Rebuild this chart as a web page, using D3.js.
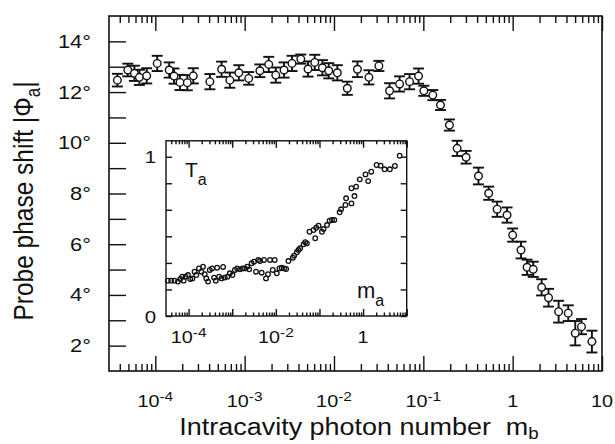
<!doctype html>
<html lang="en">
<head>
  <meta charset="utf-8">
  <title>Probe phase shift</title>
  <script src="https://d3js.org/d3.v7.min.js"></script>
  <style>
    body { margin: 0; background: #fff; }
    text { font-family: "Liberation Sans", Arial, Helvetica, sans-serif; fill: #111; }
  </style>
</head>
<body>
<svg id="chart" width="615" height="444"></svg>

<script>
// main plot: phase shift vs intracavity photon number m_b
var mb = [3.76e-5, 4.92e-5, 5.83e-5, 6.63e-5, 8.01e-5, 1.05e-4, 1.43e-4, 1.62e-4, 1.89e-4, 2.28e-4,
          2.66e-4, 4.08e-4, 5.52e-4, 6.83e-4, 8.61e-4, 1.11e-3, 1.48e-3, 1.86e-3, 2.23e-3, 2.76e-3,
          3.39e-3, 4.25e-3, 5.12e-3, 6.09e-3, 7.42e-3, 8.73e-3, 1.09e-2, 1.41e-2, 1.83e-2, 2.46e-2,
          3.18e-2, 4.19e-2, 5.42e-2, 7.01e-2, 8.84e-2, 0.1014, 0.1277, 0.1556, 0.196, 0.239,
          0.301, 0.414, 0.539, 0.670, 0.865, 1.00, 1.24, 1.45, 1.70, 2.11,
          2.52, 3.27, 4.19, 5.02, 5.90, 7.71];
var phi = [12.47, 12.87, 12.74, 12.58, 12.64, 13.13, 12.87, 12.63, 12.38, 12.37,
           12.64, 12.41, 12.90, 12.47, 12.76, 12.54, 12.84, 13.09, 12.67, 12.87,
           13.13, 13.30, 12.91, 13.17, 12.96, 12.84, 12.76, 12.15, 12.90, 12.58,
           13.03, 12.05, 12.32, 12.41, 12.63, 12.05, 11.88, 11.49, 10.70, 9.78,
           9.43, 8.69, 8.01, 7.38, 7.15, 6.36, 5.77, 5.09, 5.01, 4.30,
           3.89, 3.34, 3.28, 2.49, 2.75, 2.16];
var phiErr = [0.25, 0.25, 0.3, 0.3, 0.3, 0.3, 0.3, 0.3, 0.3, 0.3,
              0.3, 0.3, 0.3, 0.3, 0.3, 0.25, 0.25, 0.3, 0.3, 0.3,
              0.3, 0.18, 0.3, 0.3, 0.3, 0.3, 0.3, 0.26, 0.31, 0.28,
              0.2, 0.3, 0.3, 0.3, 0.3, 0.2, 0.2, 0.2, 0.22, 0.3,
              0.25, 0.33, 0.26, 0.3, 0.3, 0.26, 0.33, 0.3, 0.3, 0.32,
              0.35, 0.43, 0.31, 0.48, 0.3, 0.43];

var yTicks = [2, 4, 6, 8, 10, 12, 14];
var yTickLabels = ["2°", "4°", "6°", "8°", "10°", "12°", "14°"];
var xTicks = [1e-4, 1e-3, 1e-2, 1e-1, 1, 10];
var xTickLabels = ["10^-4", "10^-3", "10^-2", "10^-1", "1", "10"];

// inset: transmission T_a vs m_a
var ma = [3.34e-5, 3.99e-5, 4.75e-5, 5.68e-5, 6.43e-5, 7.14e-5, 7.67e-5, 8.53e-5, 9.66e-5, 1.09e-4,
          1.22e-4, 1.37e-4, 1.50e-4, 1.73e-4, 1.96e-4, 2.14e-4, 2.34e-4, 2.55e-4, 2.79e-4, 3.05e-4,
          3.45e-4, 3.84e-4, 4.19e-4, 4.50e-4, 5.00e-4, 5.66e-4, 6.18e-4, 6.75e-4, 7.78e-4, 8.81e-4,
          1.01e-3, 1.15e-3, 1.30e-3, 1.50e-3, 1.73e-3, 1.95e-3, 2.21e-3, 2.45e-3, 2.78e-3, 3.15e-3,
          3.50e-3, 3.95e-3, 4.33e-3, 4.73e-3, 5.35e-3, 5.94e-3, 6.61e-3, 7.35e-3, 8.47e-3, 9.42e-3,
          1.05e-2, 1.21e-2, 1.36e-2, 1.55e-2, 1.72e-2, 1.94e-2, 2.45e-2, 2.62e-2, 3.03e-2, 3.30e-2,
          3.61e-2, 4.31e-2, 4.71e-2, 5.15e-2, 5.91e-2, 8.0e-2, 7.31e-2, 8.43e-2, 9.53e-2, 0.114,
          0.124, 0.149, 0.171, 0.194, 0.219, 0.290, 0.313, 0.393, 0.408, 0.541,
          0.634, 0.541, 0.693, 0.839, 1.135, 1.31, 1.54, 2.04, 2.52, 3.11,
          4.12, 5.37, 6.90];
var Ta = [0.222, 0.222, 0.222, 0.216, 0.232, 0.247, 0.222, 0.247, 0.257, 0.232,
          0.236, 0.278, 0.257, 0.299, 0.278, 0.310, 0.262, 0.236, 0.216, 0.289,
          0.299, 0.241, 0.222, 0.303, 0.247, 0.236, 0.308, 0.241, 0.247, 0.268,
          0.257, 0.289, 0.299, 0.293, 0.299, 0.299, 0.310, 0.293, 0.331, 0.341,
          0.278, 0.352, 0.345, 0.272, 0.352, 0.236, 0.262, 0.352, 0.289, 0.352,
          0.268, 0.299, 0.303, 0.299, 0.295, 0.345, 0.366, 0.379, 0.400, 0.414,
          0.425, 0.450, 0.463, 0.456, 0.529, 0.488, 0.540, 0.554, 0.567, 0.529,
          0.546, 0.571, 0.598, 0.603, 0.603, 0.651, 0.670, 0.697, 0.739, 0.707,
          0.753, 0.802, 0.812, 0.858, 0.889, 0.847, 0.906, 0.948, 0.944, 0.921,
          0.921, 0.942, 1.006];

var insetXTicks = [1e-4, 1e-2, 1];
var insetXTickLabels = ["10^-4", "10^-2", "1"];
var insetYTicks = [0, 1];
var insetYTickLabels = ["0", "1"];
var insetYMinorCount = 6;   // tick marks every 1/6 between 0 and 1

var svg = d3.select("#chart");

// the original lettering is a bit wider than it is tall
var stretch = 1.2;
function at(px, py, sx) {
  return "translate(" + px + "," + py + ") scale(" + (sx || stretch) + ",1)";
}

// "10^-4" -> 10 with a raised -4
function powLabel(sel, s) {
  var parts = s.split("^");
  sel.append("tspan").text(parts[0]);
  if (parts[1]) {
    sel.append("tspan").attr("dy", "-0.45em").attr("font-size", "0.78em").text(parts[1]);
  }
}

// ---------- main plot ----------
var box = {left: 109, top: 16, right: 602, bottom: 371};

var x = d3.scaleLog().domain([3.03e-5, 10]).range([box.left, box.right]);
var y = d3.scaleLinear().domain([1, 15]).range([box.bottom, box.top]);

var isMajor = function(d) { return Math.abs(Math.log10(d) - Math.round(Math.log10(d))) < 1e-6; };
var minorX = x.ticks().filter(function(d) { return !isMajor(d); });

function tickAxis(axis, values, size, tr) {
  var g = svg.append("g")
    .attr("transform", tr)
    .call(axis.tickValues(values).tickSize(size).tickFormat(""));
  g.select(".domain").remove();
  g.selectAll("line").attr("stroke", "#111").attr("stroke-width", 1.4);
  return g;
}

// bottom and top ticks point inward
tickAxis(d3.axisBottom(x), xTicks, -15, "translate(0," + box.bottom + ")");
tickAxis(d3.axisBottom(x), minorX, -7, "translate(0," + box.bottom + ")");
tickAxis(d3.axisTop(x), xTicks, -15, "translate(0," + box.top + ")");
tickAxis(d3.axisTop(x), minorX, -7, "translate(0," + box.top + ")");
// left ticks every degree
tickAxis(d3.axisLeft(y), d3.range(2, 15), -17, "translate(" + box.left + ",0)");

svg.append("rect")
  .attr("x", box.left).attr("y", box.top)
  .attr("width", box.right - box.left).attr("height", box.bottom - box.top)
  .attr("fill", "none").attr("stroke", "#111").attr("stroke-width", 1.6);

// tick labels
svg.selectAll(".ylab").data(yTicks).enter().append("text")
  .attr("class", "ylab")
  .attr("transform", function(d) { return at(91, y(d) + 6.5, 1.25); })
  .attr("text-anchor", "end").attr("font-size", 17.5)
  .text(function(d, i) { return yTickLabels[i]; });

svg.selectAll(".xlab").data(xTicks).enter().append("text")
  .attr("class", "xlab")
  .attr("transform", function(d) { return at(x(d), 407); })
  .attr("text-anchor", "middle").attr("font-size", 16.5)
  .each(function(d, i) { powLabel(d3.select(this), xTickLabels[i]); });

// axis titles
var xt = svg.append("text")
  .attr("transform", at(359, 435, 1.1))
  .attr("text-anchor", "middle").attr("font-size", 24.5);
xt.append("tspan").text("Intracavity photon number\u00a0\u00a0m");
xt.append("tspan").attr("dy", 4).attr("font-size", 17).text("b");

var yt = svg.append("text")
  .attr("transform", "translate(33,201) scale(1.15,1) rotate(-90)")
  .attr("text-anchor", "middle").attr("font-size", 24.5);
yt.append("tspan").text("Probe phase shift |\u03a6");
yt.append("tspan").attr("dy", 6).attr("font-size", 17).text("a");
yt.append("tspan").attr("dy", -6).text("|");

// error bars and points
var pts = mb.map(function(d, i) { return {x: d, y: phi[i], e: phiErr[i]}; });

var eb = svg.append("g").attr("stroke", "#111").attr("stroke-width", 1.9);
eb.selectAll(".v").data(pts).enter().append("line")
  .attr("x1", function(d) { return x(d.x); }).attr("x2", function(d) { return x(d.x); })
  .attr("y1", function(d) { return y(d.y - d.e); }).attr("y2", function(d) { return y(d.y + d.e); });
eb.selectAll(".top").data(pts).enter().append("line")
  .attr("x1", function(d) { return x(d.x) - 5.5; }).attr("x2", function(d) { return x(d.x) + 5.5; })
  .attr("y1", function(d) { return y(d.y + d.e); }).attr("y2", function(d) { return y(d.y + d.e); });
eb.selectAll(".bot").data(pts).enter().append("line")
  .attr("x1", function(d) { return x(d.x) - 5.5; }).attr("x2", function(d) { return x(d.x) + 5.5; })
  .attr("y1", function(d) { return y(d.y - d.e); }).attr("y2", function(d) { return y(d.y - d.e); });

svg.append("g").selectAll("circle").data(pts).enter().append("circle")
  .attr("cx", function(d) { return x(d.x); })
  .attr("cy", function(d) { return y(d.y); })
  .attr("r", 3.8)
  .attr("fill", "#fff").attr("stroke", "#111").attr("stroke-width", 1.4);

// ---------- inset ----------
var ibox = {left: 166, top: 140.8, right: 406.7, bottom: 316};

var ix = d3.scaleLog().domain([3.03e-5, 10]).range([ibox.left, ibox.right]);
var iy = d3.scaleLinear().domain([0, 1.1]).range([ibox.bottom, ibox.top]);

svg.append("rect")
  .attr("x", ibox.left).attr("y", ibox.top)
  .attr("width", ibox.right - ibox.left).attr("height", ibox.bottom - ibox.top)
  .attr("fill", "#fff");

var iMinorX = ix.ticks().filter(function(d) { return !isMajor(d); });
var iMajorX = ix.ticks().filter(isMajor);
var iYTicks = d3.range(0, insetYMinorCount + 1).map(function(k) { return k / insetYMinorCount; });

tickAxis(d3.axisBottom(ix), iMajorX, -7, "translate(0," + ibox.bottom + ")");
tickAxis(d3.axisBottom(ix), iMinorX, -3.5, "translate(0," + ibox.bottom + ")");
tickAxis(d3.axisTop(ix), iMajorX, -7, "translate(0," + ibox.top + ")");
tickAxis(d3.axisTop(ix), iMinorX, -3.5, "translate(0," + ibox.top + ")");
tickAxis(d3.axisLeft(iy), iYTicks, -6, "translate(" + ibox.left + ",0)");
tickAxis(d3.axisRight(iy), iYTicks, -6, "translate(" + ibox.right + ",0)");

svg.append("rect")
  .attr("x", ibox.left).attr("y", ibox.top)
  .attr("width", ibox.right - ibox.left).attr("height", ibox.bottom - ibox.top)
  .attr("fill", "none").attr("stroke", "#111").attr("stroke-width", 1.4);

svg.selectAll(".iylab").data(insetYTicks).enter().append("text")
  .attr("class", "iylab")
  .attr("transform", function(d) { return at(156, iy(d) + 6.5); })
  .attr("text-anchor", "end").attr("font-size", 17)
  .text(function(d, i) { return insetYTickLabels[i]; });

svg.selectAll(".ixlab").data(insetXTicks).enter().append("text")
  .attr("class", "ixlab")
  .attr("transform", function(d) { return at(ix(d), 343); })
  .attr("text-anchor", "middle").attr("font-size", 16.5)
  .each(function(d, i) { powLabel(d3.select(this), insetXTickLabels[i]); });

var tl = svg.append("text").attr("x", 185).attr("y", 177).attr("font-size", 21);
tl.append("tspan").text("T");
tl.append("tspan").attr("dy", 8).attr("font-size", 16).text("a");

var ml = svg.append("text").attr("x", 357).attr("y", 298).attr("font-size", 22);
ml.append("tspan").text("m");
ml.append("tspan").attr("dy", 8).attr("font-size", 16).text("a");

svg.append("g").selectAll("circle").data(ma).enter().append("circle")
  .attr("cx", function(d) { return ix(d); })
  .attr("cy", function(d, i) { return iy(Ta[i]); })
  .attr("r", 2.3)
  .attr("fill", "none").attr("stroke", "#111").attr("stroke-width", 1.3);
</script>
</body>
</html>
